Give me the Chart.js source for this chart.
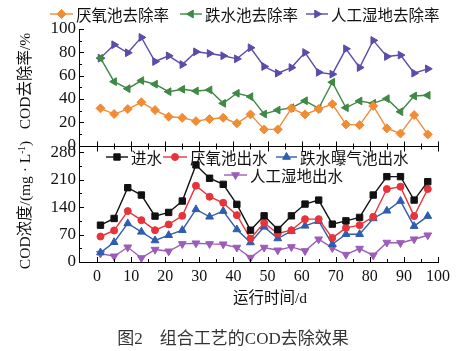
<!DOCTYPE html>
<html><head><meta charset="utf-8">
<script src="https://cdn.jsdelivr.net/npm/chart.js@4.4.0/dist/chart.umd.min.js"></script>
<style>
html,body{margin:0;padding:0;background:#fff;}
#wrap{position:relative;width:473px;height:351px;overflow:hidden;font-family:"Liberation Serif","Noto Sans CJK SC",serif;color:#111;}
canvas{position:absolute;left:0;top:0;}
.t{position:absolute;white-space:nowrap;line-height:1;}
.rot{transform:translate(-50%,-50%) rotate(-90deg);}
.c{transform:translate(-50%,-50%);}
sup{font-size:0.6em;vertical-align:0.55em;}
</style></head><body>
<div id="wrap">
<canvas id="c" width="473" height="351"></canvas>
<div class="t rot" style="left:25px;top:81px;font-size:15.5px">COD去除率/%</div>
<div class="t rot" style="left:25px;top:205px;font-size:15.5px">COD浓度/(mg · L<sup>-1</sup>)</div>
<div class="t c" style="left:270px;top:298px;font-size:15.5px">运行时间/d</div>
<div class="t c" style="left:233px;top:338px;font-size:17px;color:#333">图2　组合工艺的COD去除效果</div>
</div>
<script>
const days = [1,5,9,13,17,21,25,29,33,37,41,45,49,53,57,61,65,69,73,77,81,85,89,93,97];
const anaerobicRate = [31.9,27.0,31.3,37.1,30.4,24.7,23.8,20.9,22.7,23.8,19.0,26.7,13.8,13.8,31.9,26.7,31.3,35.6,18.1,17.5,33.9,14.7,10.3,26.1,9.5];
const dropRate = [75,54.8,48.8,55.7,52.6,46.2,48.3,46.8,47.7,36.2,44.8,41.9,27.0,30.4,32.4,38.4,31.9,54.3,32.4,38.2,36.2,40.2,29.0,42.5,43.1];
const wetlandRate = [75,86.5,79.6,92.8,72.1,77,69.5,80.4,79,77,74.4,83.9,67.8,62.1,66.9,79.8,62.8,61.2,83,66.9,90.2,76.4,77.6,62.1,65.8];
const influent = [93.9,111,189.4,170.7,117,126.4,155.4,247.5,213.5,198,146.9,81.1,117.7,82.9,117.7,147.7,157.9,96.5,104.9,113.6,170.7,217.6,217.6,157.9,204.8];
const anaerobicOut = [65,80.4,129.8,106.7,81.1,95.7,117.7,194.5,166.4,151,119.5,59.9,99.8,72.7,81,109.3,109.3,61.4,87,93.9,115.2,186,192,117,186];
const dropOut = [24,50.4,98.3,76.8,54.8,68.3,81.1,134.1,115.2,129.8,82.9,49.7,89.6,59.9,78.6,92.1,104.2,45.3,70.9,70.9,111,130.5,155.4,91.4,117];
const wetlandOut = [21.5,14.6,37.6,10.2,31.7,27.4,46.1,47.9,46.1,45.3,36.9,11.3,36.9,29.9,38.4,28.2,58.1,35.8,18.9,34.3,17.1,49.7,48.6,58.1,68.3];
const xTicks = [0,10,20,30,40,50,60,70,80,90,100];
const rateTicks = [0,20,40,60,80,100];
const concTicks = [0,70,140,210,280];

const pts = arr => arr.map((v,i)=>({x:days[i], y:v}));
function ds(label, data, color, style, rot, r, axis){
  return {label, data: pts(data), yAxisID: axis, borderColor: color, backgroundColor: color,
    borderWidth: 1.4, pointStyle: style, pointRotation: rot, pointRadius: r, pointHoverRadius: r,
    pointBorderWidth: 1, tension: 0};
}
const C = {orange:'#F28C34', green:'#3E8944', purple:'#5A4CAA', black:'#111111', red:'#E8333A', blue:'#2F5DAF', violet:'#9C5CB8'};
const datasets = [
  ds('厌氧池去除率', anaerobicRate, C.orange, 'rectRot', 0, 4.5, 'yTop'),
  ds('跌水池去除率', dropRate, C.green, 'triangle', -90, 4.5, 'yTop'),
  ds('人工湿地去除率', wetlandRate, C.purple, 'triangle', 90, 4.5, 'yTop'),
  ds('进水', influent, C.black, 'rect', 0, 4.5, 'yBot'),
  ds('厌氧池出水', anaerobicOut, C.red, 'circle', 0, 3.5, 'yBot'),
  ds('跌水曝气池出水', dropOut, C.blue, 'triangle', 0, 4.5, 'yBot'),
  ds('人工湿地出水', wetlandOut, C.violet, 'triangle', 180, 4.5, 'yBot')
];

const legendPos = [
  {i:0, x0:50, x1:73, y:14}, {i:1, x0:180, x1:202, y:14}, {i:2, x0:306, x1:328, y:14},
  {i:3, x0:106, x1:128, y:157}, {i:4, x0:163, x1:187, y:157}, {i:5, x0:276, x1:297, y:157},
  {i:6, x0:224, x1:247, y:175}
];
const legendPlugin = {
  id:'legendDraw',
  afterDraw(chart){
    const ctx = chart.ctx;
    ctx.save();
    ctx.font = '15.5px "Noto Sans CJK SC"';
    ctx.textBaseline = 'middle';
    for (const p of legendPos){
      const d = chart.data.datasets[p.i];
      ctx.strokeStyle = d.borderColor; ctx.lineWidth = 1.4;
      ctx.beginPath(); ctx.moveTo(p.x0, p.y); ctx.lineTo(p.x1, p.y); ctx.stroke();
      ctx.fillStyle = d.backgroundColor; ctx.strokeStyle = d.borderColor; ctx.lineWidth = 1;
      Chart.helpers.drawPoint(ctx, {pointStyle:d.pointStyle, rotation:d.pointRotation, radius:d.pointRadius, borderWidth:1}, (p.x0+p.x1)/2, p.y);
      ctx.fillStyle = '#111';
      ctx.fillText(d.label, p.x1+3, p.y+1);
    }
    ctx.restore();
  }
};
const framePlugin = {
  id:'frame',
  afterDraw(chart){
    const {ctx, scales:{x, yTop, yBot}} = chart;
    ctx.save(); ctx.strokeStyle = '#000'; ctx.lineWidth = 1;
    const midY = Math.round(yTop.bottom) + 0.5;
    ctx.beginPath(); ctx.moveTo(x.left, midY); ctx.lineTo(x.right, midY); ctx.stroke();
    ctx.beginPath();
    for (let v = 0; v <= 100; v += 5){
      const px = Math.round(x.getPixelForValue(v)) + 0.5; const L = v % 10 === 0 ? 5 : 3;
      ctx.moveTo(px, x.top); ctx.lineTo(px, x.top - L);
      ctx.moveTo(px, midY - L); ctx.lineTo(px, midY + L);
    }
    for (let v = 0; v <= 100; v += 10){
      const py = Math.round(yTop.getPixelForValue(v)) + 0.5; const L = v % 20 === 0 ? 5 : 3;
      ctx.moveTo(yTop.right, py); ctx.lineTo(yTop.right + L, py);
    }
    for (let v = 0; v <= 280; v += 35){
      const py = Math.round(yBot.getPixelForValue(v)) + 0.5; const L = v % 70 === 0 ? 5 : 3;
      ctx.moveTo(yBot.right, py); ctx.lineTo(yBot.right + L, py);
    }
    ctx.stroke(); ctx.restore();
  }
};
const tickFont = {family:'"Liberation Serif"', size:16};
const yTickFont = {family:'"Liberation Serif"', size:17};
new Chart(document.getElementById('c'), {
  type:'line',
  data:{datasets},
  options:{
    responsive:false, animation:false, devicePixelRatio:1,
    layout:{padding:{top:29, right:35, left:0, bottom:0}},
    plugins:{legend:{display:false}, tooltip:{enabled:false}},
    scales:{
      x:{type:'linear', min:-5.3, max:100, position:'bottom',
        grid:{display:false, drawTicks:false}, border:{display:true, color:'#000', width:1},
        ticks:{font:tickFont, color:'#111', padding:5, maxRotation:0, autoSkip:false},
        afterBuildTicks(s){ s.ticks = xTicks.map(v=>({value:v})); },
        afterFit(s){ s.height = 89; s.paddingLeft = 0; s.paddingRight = 0; }},
      yBot:{type:'linear', position:'left', stack:'v', stackWeight:1, min:0, max:297,
        grid:{display:false, drawTicks:false}, border:{display:true, color:'#000', width:1},
        ticks:{font:yTickFont, color:'#111', padding:3, autoSkip:false},
        afterBuildTicks(s){ s.ticks = concTicks.map(v=>({value:v})); },
        afterFit(s){ s.width = 79; s.paddingTop = 0; s.paddingBottom = 0; }},
      yTop:{type:'linear', position:'left', stack:'v', stackWeight:1, min:0, max:100,
        grid:{display:false, drawTicks:false}, border:{display:true, color:'#000', width:1},
        ticks:{font:yTickFont, color:'#111', padding:3, autoSkip:false},
        afterBuildTicks(s){ s.ticks = rateTicks.map(v=>({value:v})); },
        afterFit(s){ s.width = 79; s.paddingTop = 0; s.paddingBottom = 0; }}
    }
  },
  plugins:[framePlugin, legendPlugin]
});
</script>
</body></html>
